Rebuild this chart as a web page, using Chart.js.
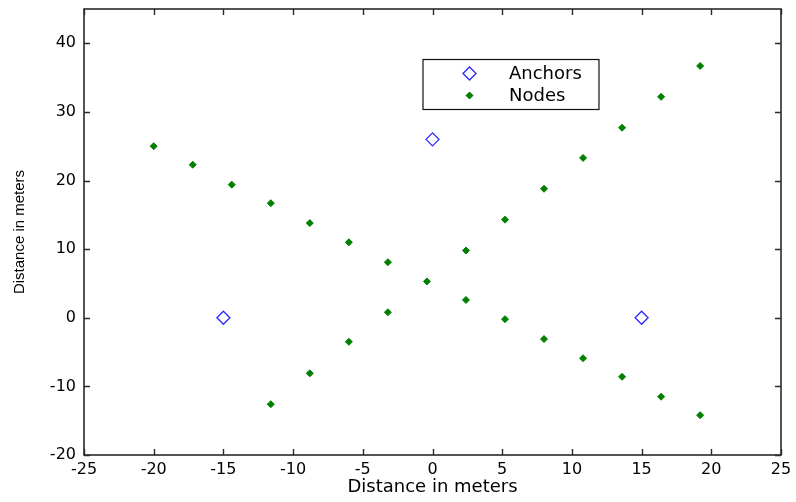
<!DOCTYPE html>
<html>
<head>
<meta charset="utf-8">
<script src="https://cdn.jsdelivr.net/npm/chart.js@4/dist/chart.umd.min.js"></script>
<style>
  html, body { margin: 0; padding: 0; background: #ffffff; }
  canvas { display: block; }
</style>
</head>
<body>
<canvas id="chart" width="796" height="502"></canvas>
<script>
// Anchor positions (meters)
const anchorX = [-15, 0, 15];
const anchorY = [0, 26, 0];

// Node positions (meters): descending diagonal followed by ascending diagonal
const nodeX = [-20, -17.2, -14.4, -11.6, -8.8, -6.0, -3.2, -0.4, 2.4, 5.2, 8.0, 10.8, 13.6, 16.4, 19.2,
               -11.6, -8.8, -6.0, -3.2, 2.4, 5.2, 8.0, 10.8, 13.6, 16.4, 19.2];
const nodeY = [25.0, 22.3, 19.4, 16.7, 13.8, 11.0, 8.1, 5.3, 2.6, -0.2, -3.1, -5.9, -8.6, -11.5, -14.2,
               -12.6, -8.1, -3.5, 0.8, 9.8, 14.3, 18.8, 23.3, 27.7, 32.2, 36.7];

// Axis ticks
const xTicks = [-25, -20, -15, -10, -5, 0, 5, 10, 15, 20, 25];
const yTicks = [-20, -10, 0, 10, 20, 30, 40];

const seriesNames = ['Anchors', 'Nodes'];

const toPoints = (xs, ys) => xs.map((x, i) => ({ x: x, y: ys[i] }));

const AXIS_COLOR = '#2a2a2a';
const TICK_FONT = { family: 'DejaVu Sans', size: 16 };

// Frame around the plot with inward tick marks on all four sides
const framePlugin = {
  id: 'frame',
  afterDraw(chart) {
    const { ctx, chartArea: a, scales } = chart;
    const len = 6;
    ctx.save();
    ctx.strokeStyle = AXIS_COLOR;
    ctx.lineWidth = 1.6;
    ctx.strokeRect(a.left, a.top, a.right - a.left, a.bottom - a.top);
    ctx.lineWidth = 1.4;
    ctx.beginPath();
    scales.x.ticks.forEach(t => {
      const px = Math.round(scales.x.getPixelForValue(t.value)) + 0.5;
      ctx.moveTo(px, a.bottom); ctx.lineTo(px, a.bottom - len);
      ctx.moveTo(px, a.top); ctx.lineTo(px, a.top + len);
    });
    scales.y.ticks.forEach(t => {
      const py = Math.round(scales.y.getPixelForValue(t.value)) + 0.5;
      ctx.moveTo(a.left, py); ctx.lineTo(a.left + len, py);
      ctx.moveTo(a.right, py); ctx.lineTo(a.right - len, py);
    });
    ctx.stroke();
    ctx.restore();
  }
};

// Boxed legend inside the plot area
const legendBoxPlugin = {
  id: 'legendBox',
  afterDraw(chart) {
    const { ctx } = chart;
    const box = { x: 423, y: 59.5, w: 176, h: 50 };
    ctx.save();
    ctx.fillStyle = '#ffffff';
    ctx.fillRect(box.x, box.y, box.w, box.h);
    ctx.strokeStyle = '#111111';
    ctx.lineWidth = 1.2;
    ctx.strokeRect(box.x, box.y, box.w, box.h);
    const rows = [73.5, 95.5];
    ctx.font = '18px "DejaVu Sans"';
    ctx.textBaseline = 'middle';
    ctx.textAlign = 'left';
    chart.data.datasets.forEach((ds, i) => {
      const style = {
        pointStyle: ds.pointStyle,
        radius: ds.pointRadius,
        rotation: 0,
        borderWidth: ds.borderWidth
      };
      ctx.fillStyle = ds.backgroundColor;
      ctx.strokeStyle = ds.borderColor;
      ctx.lineWidth = ds.borderWidth;
      Chart.helpers.drawPoint(ctx, style, 469.5, rows[i]);
      ctx.fillStyle = '#000000';
      ctx.fillText(ds.label, 509, rows[i] + 1);
    });
    ctx.restore();
  }
};

new Chart(document.getElementById('chart'), {
  type: 'scatter',
  data: {
    datasets: [
      {
        label: seriesNames[0],
        data: toPoints(anchorX, anchorY),
        pointStyle: 'rectRot',
        pointRadius: 6.5,
        borderWidth: 1.3,
        borderColor: '#2a2aff',
        backgroundColor: 'rgba(0,0,0,0)'
      },
      {
        label: seriesNames[1],
        data: toPoints(nodeX, nodeY),
        pointStyle: 'rectRot',
        pointRadius: 3.5,
        borderWidth: 1,
        borderColor: '#008000',
        backgroundColor: '#008000'
      }
    ]
  },
  options: {
    responsive: false,
    animation: false,
    devicePixelRatio: 1,
    layout: { padding: { top: 9, right: 15, bottom: 0, left: 0 } },
    plugins: {
      legend: { display: false },
      tooltip: { enabled: false }
    },
    scales: {
      x: {
        type: 'linear',
        min: -25,
        max: 25,
        afterBuildTicks(scale) { scale.ticks = xTicks.map(v => ({ value: v })); },
        afterFit(scale) { scale.height = 47; scale.paddingLeft = 0; scale.paddingRight = 0; },
        grid: { display: false, drawTicks: false },
        border: { display: false },
        ticks: {
          autoSkip: false,
          maxRotation: 0,
          padding: 5,
          color: '#000000',
          font: TICK_FONT
        },
        title: {
          display: true,
          text: 'Distance in meters',
          color: '#000000',
          font: { family: 'DejaVu Sans', size: 18 },
          padding: { top: 0, bottom: 4 }
        }
      },
      y: {
        type: 'linear',
        min: -20,
        max: 45,
        afterBuildTicks(scale) { scale.ticks = yTicks.map(v => ({ value: v })); },
        afterFit(scale) { scale.width = 84; scale.paddingTop = 0; scale.paddingBottom = 0; },
        grid: { display: false, drawTicks: false },
        border: { display: false },
        ticks: {
          autoSkip: false,
          padding: 8,
          color: '#000000',
          font: TICK_FONT
        },
        title: {
          display: true,
          text: 'Distance in meters',
          color: '#000000',
          font: { family: 'Liberation Sans', size: 15 },
          padding: { top: 11, bottom: 0 }
        }
      }
    }
  },
  plugins: [framePlugin, legendBoxPlugin]
});
</script>
</body>
</html>
